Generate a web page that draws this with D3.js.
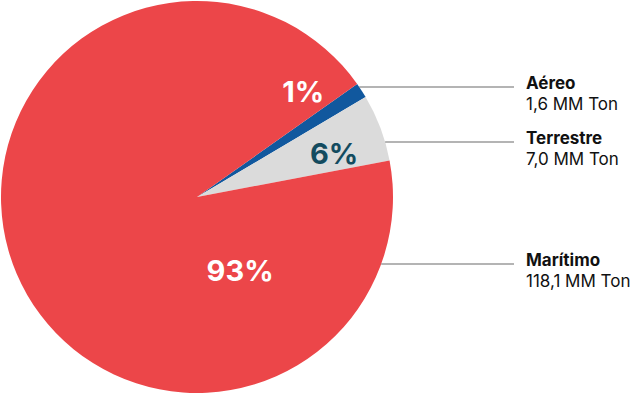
<!DOCTYPE html>
<html>
<head>
<meta charset="utf-8">
<script src="https://cdn.jsdelivr.net/npm/d3@7"></script>
<style>
  body { margin: 0; background: #fff; }
  text { font-family: Inter, "Noto Sans", sans-serif; }
</style>
</head>
<body>
<div id="chart"></div>
<script>
// Data
var modes = ["Aéreo", "Terrestre", "Marítimo"];
var tons = [1.6, 7.0, 118.1];
var tonLabels = ["1,6 MM Ton", "7,0 MM Ton", "118,1 MM Ton"];
var pctLabels = ["1%", "6%", "93%"];

// Chart size
var svgWidth = 640;
var svgHeight = 395;
var cx = 197, cy = 197, radius = 196;

var colors = ["#11589e", "#dbdbdb", "#ec4649"];
var pctColors = ["#ffffff", "#134b5f", "#ffffff"];

// where the % labels sit (angle offset in degrees, radius)
var pctPlace = [{da: -12, r: 150}, {da: 3, r: 144}, {da: -97.5, r: 85}];
// leader line heights
var leaderY = [87, 142, 264];

var svg = d3.select("#chart")
  .append("svg")
  .attr("width", svgWidth)
  .attr("height", svgHeight);

var chartGroup = svg.append("g")
  .attr("transform", `translate(${cx}, ${cy})`);

var start = 54.8 * Math.PI / 180;
var pie = d3.pie()
  .sort(null)
  .startAngle(start)
  .endAngle(start + 2 * Math.PI);

var arcs = pie(tons);

var arc = d3.arc()
  .innerRadius(0)
  .outerRadius(radius);

chartGroup.selectAll("path")
  .data(arcs)
  .enter()
  .append("path")
  .attr("d", arc)
  .attr("fill", (d, i) => colors[i]);

// Percent labels
var rad = Math.PI / 180;
chartGroup.selectAll(".pct")
  .data(arcs)
  .enter()
  .append("text")
  .attr("class", "pct")
  .attr("x", function(d, i) {
    var a = (d.startAngle + d.endAngle) / 2 + pctPlace[i].da * rad;
    return Math.sin(a) * pctPlace[i].r;
  })
  .attr("y", function(d, i) {
    var a = (d.startAngle + d.endAngle) / 2 + pctPlace[i].da * rad;
    return -Math.cos(a) * pctPlace[i].r;
  })
  .attr("dy", "0.36em")
  .attr("text-anchor", "middle")
  .attr("font-size", "29px")
  .attr("font-weight", "700")
  .attr("fill", (d, i) => pctColors[i])
  .text((d, i) => pctLabels[i]);

// Leader lines and legend text
var lineEnd = 514 - cx;
var textX = 526 - cx;

modes.forEach(function(m, i) {
  var y = leaderY[i] - cy;
  var x0 = Math.sqrt(radius * radius - y * y);

  chartGroup.append("line")
    .attr("x1", x0)
    .attr("x2", lineEnd)
    .attr("y1", y)
    .attr("y2", y)
    .attr("stroke", "#6b6b6b")
    .attr("stroke-width", 1.2);

  chartGroup.append("text")
    .attr("x", textX)
    .attr("y", y + 2)
    .attr("font-size", "17px")
    .attr("font-weight", "700")
    .attr("fill", "#111")
    .text(m);

  chartGroup.append("text")
    .attr("x", textX)
    .attr("y", y + 22.5)
    .attr("font-size", "17px")
    .attr("fill", "#111")
    .text(tonLabels[i]);
});
</script>
</body>
</html>
